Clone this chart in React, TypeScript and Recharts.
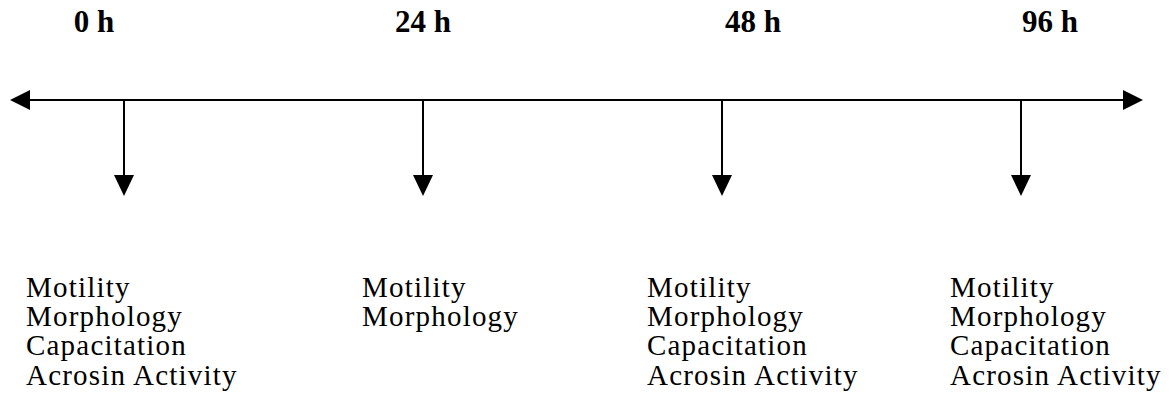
import React from 'react';
import { ComposedChart, XAxis, YAxis, Scatter, ReferenceLine } from 'recharts';

// ---- data ----
const timePoints: string[] = ['0 h', '24 h', '48 h', '96 h'];
const assays0h: string[] = ['Motility', 'Morphology', 'Capacitation', 'Acrosin Activity'];
const assays24h: string[] = ['Motility', 'Morphology'];
const assays48h: string[] = ['Motility', 'Morphology', 'Capacitation', 'Acrosin Activity'];
const assays96h: string[] = ['Motility', 'Morphology', 'Capacitation', 'Acrosin Activity'];
const assaysByTime: string[][] = [assays0h, assays24h, assays48h, assays96h];
const timelineLevel = 1;

const data = timePoints.map((t, i) => ({
  time: t,
  level: timelineLevel,
  idx: i,
  assays: assaysByTime[i],
}));

// ---- layout / style ----
const W = 1174;
const H = 415;
const FONT = '"Liberation Serif", "Times New Roman", Times, serif';
const labelDx = [-30, 0, 31, 29];
const listDx = [-98, -61, -75, -71];
const STROKE = 2;

const TimelineAxis = (props: any) => {
  const { x1, y1, x2 } = props;
  const y = y1;
  return (
    <g>
      <line x1={x1 + 18} y1={y} x2={x2 - 18} y2={y} stroke="#000" strokeWidth={STROKE} />
      <polygon points={`${x1},${y} ${x1 + 20},${y - 10} ${x1 + 20},${y + 10}`} fill="#000" />
      <polygon points={`${x2},${y} ${x2 - 20},${y - 10} ${x2 - 20},${y + 10}`} fill="#000" />
    </g>
  );
};

const StageMark = (props: any) => {
  const { cx, cy, payload } = props;
  const i = payload.idx;
  const items: string[] = payload.assays;
  return (
    <g>
      <line x1={cx} y1={cy} x2={cx} y2={cy + 76} stroke="#000" strokeWidth={STROKE} />
      <polygon points={`${cx - 10},${cy + 75} ${cx + 10},${cy + 75} ${cx},${cy + 96}`} fill="#000" />
      <text
        x={cx + labelDx[i]}
        y={cy - 68}
        textAnchor="middle"
        fontFamily={FONT}
        fontWeight="bold"
        fontSize={31}
        fill="#000"
      >
        {payload.time}
      </text>
      {items.map((s, k) => (
        <text
          key={k}
          x={cx + listDx[i]}
          y={cy + 197 + k * 29.2}
          textAnchor="start"
          fontFamily={FONT}
          fontSize={29}
          letterSpacing={1.2}
          fill="#000"
        >
          {s}
        </text>
      ))}
    </g>
  );
};

export default function App() {
  return (
    <div style={{ position: 'absolute', left: 0, top: 0, width: W, height: H, background: '#fff' }}>
      <ComposedChart
        width={W}
        height={H}
        data={data}
        margin={{ top: 100, right: 31, bottom: 0, left: 10 }}
      >
        <XAxis
          dataKey="time"
          type="category"
          scale="point"
          padding={{ left: 114, right: 122 }}
          hide
        />
        <YAxis type="number" domain={[0, 1]} hide />
        <ReferenceLine y={timelineLevel} shape={TimelineAxis} />
        <Scatter dataKey="level" isAnimationActive={false} shape={StageMark} />
      </ComposedChart>
    </div>
  );
}
